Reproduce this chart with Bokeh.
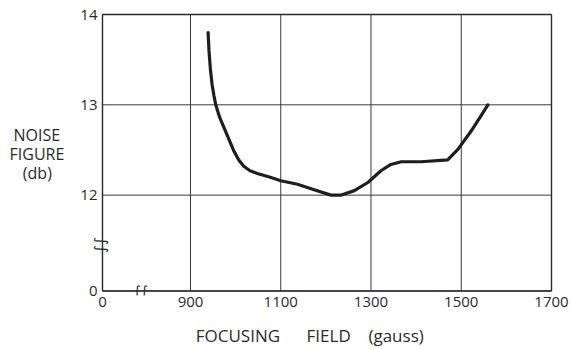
from bokeh.plotting import figure
from bokeh.models import Range1d, FixedTicker, Label
from bokeh.embed import file_html
from bokeh.resources import INLINE

# data
field = [939, 941, 944, 948, 952, 956, 964, 974, 985, 996, 1007, 1018, 1032, 1048, 1075, 1100, 1137, 1174, 1211, 1233,
         1263, 1293, 1322, 1344, 1367, 1411, 1470, 1493, 1522, 1544, 1559]
noise = [13.80, 13.60, 13.40, 13.22, 13.10, 13.00, 12.87, 12.75, 12.62, 12.49, 12.39, 12.32, 12.27, 12.24, 12.20, 12.16, 12.12, 12.06, 12.00, 12.00,
         12.05, 12.14, 12.27, 12.34, 12.37, 12.37, 12.39, 12.51, 12.71, 12.88, 13.00]

x_ticks = [705, 900, 1100, 1300, 1500, 1700]      # 705 is where the broken axis shows "0"
x_labels = ["0", "900", "1100", "1300", "1500", "1700"]
y_ticks = [10.939, 12, 13, 14]                    # 10.939 is where the broken axis shows "0"
y_labels = ["0", "12", "13", "14"]

FONT = "Open Sans"
INK = "#2a2a2a"
NB = "\u00a0"

# frame is a little larger than the drawn box so the break marks are not clipped
x_lo, x_hi = 682.84, 1704.43
y_lo, y_hi = 10.8889, 14.0222

p = figure(width=571, height=349, output_backend="svg", toolbar_location=None,
           x_range=Range1d(x_lo, x_hi), y_range=Range1d(y_lo, y_hi),
           min_border_left=92, min_border_right=18, min_border_top=12, min_border_bottom=52)
p.background_fill_color = "white"
p.border_fill_color = "white"
p.outline_line_color = None
p.xgrid.visible = False
p.ygrid.visible = False

p.xaxis.ticker = FixedTicker(ticks=x_ticks)
p.yaxis.ticker = FixedTicker(ticks=y_ticks)
p.xaxis.major_label_overrides = dict(zip(x_ticks, x_labels))
p.yaxis.major_label_overrides = dict(zip(y_ticks, y_labels))
for ax in (p.xaxis, p.yaxis):
    ax.major_tick_line_color = None
    ax.minor_tick_line_color = None
    ax.axis_line_color = None
    ax.major_label_text_font = FONT
    ax.major_label_text_font_size = "15px"
    ax.major_label_text_color = INK
    ax.axis_label_text_font = FONT
    ax.axis_label_text_font_style = "normal"
    ax.axis_label_text_color = INK
p.xaxis.major_label_standoff = -5
p.yaxis.major_label_standoff = -11

p.xaxis.axis_label = "FOCUSING" + NB * 6 + "FIELD" + NB * 4 + "(gauss)" + NB * 6
p.xaxis.axis_label_text_font_size = "17px"
p.xaxis.axis_label_text_line_height = 0.8
p.xaxis.axis_label_standoff = 14
p.yaxis.axis_label = "NOISE" + NB + "\nFIGURE\n(db)" + NB * 3
p.yaxis.axis_label_text_font_size = "16px"
p.yaxis.axis_label_orientation = "horizontal"
p.yaxis.axis_label_text_line_height = 0.85
p.yaxis.axis_label_standoff = 13

# grid and box drawn from the tick lists
p.segment(x0=x_ticks, x1=x_ticks, y0=[y_ticks[0]] * len(x_ticks), y1=[y_ticks[-1]] * len(x_ticks),
          line_color="#3a3a3a", line_width=1)
p.segment(x0=[x_ticks[0]] * len(y_ticks), x1=[x_ticks[-1]] * len(y_ticks), y0=y_ticks, y1=y_ticks,
          line_color="#3a3a3a", line_width=1)
p.segment(x0=[x_ticks[0], x_ticks[0], x_ticks[0], x_ticks[-1]],
          x1=[x_ticks[-1], x_ticks[-1], x_ticks[0], x_ticks[-1]],
          y0=[y_ticks[0], y_ticks[-1], y_ticks[0], y_ticks[0]],
          y1=[y_ticks[0], y_ticks[-1], y_ticks[-1], y_ticks[-1]],
          line_color=INK, line_width=1.4)

p.line(field, noise, line_color="#1e1e1e", line_width=3.2, line_cap="round", line_join="round")

# axis break marks
p.add_layout(Label(x=790, y=y_ticks[0], text="∫∫", text_font="DejaVu Sans", text_font_size="14px",
                   text_color=INK, text_align="center", text_baseline="middle"))
p.add_layout(Label(x=700, y=11.45, text="∫∫", text_font="DejaVu Sans", text_font_size="15px",
                   text_color=INK, text_align="center", text_baseline="middle", angle=1.5708))

open("out.html", "w").write(file_html(p, INLINE))
